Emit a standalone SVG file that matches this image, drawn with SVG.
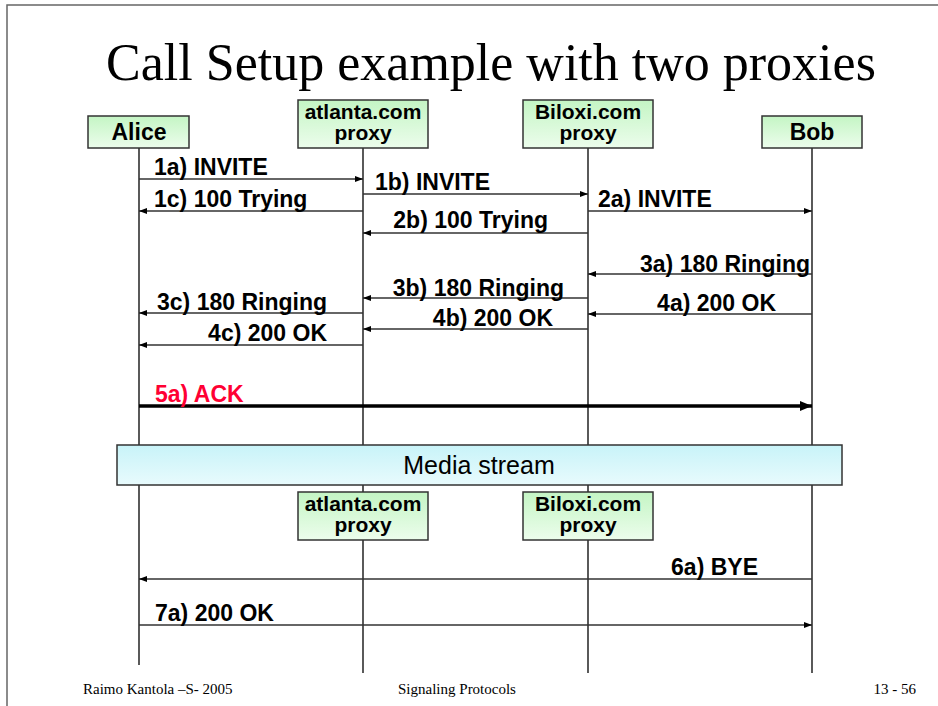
<svg xmlns="http://www.w3.org/2000/svg" width="938" height="706" viewBox="0 0 938 706">
<defs>
<linearGradient id="gBox" x1="0" y1="0" x2="0" y2="1"><stop offset="0" stop-color="#c4f5c4"/><stop offset="1" stop-color="#ecfdec"/></linearGradient>
<linearGradient id="gMedia" x1="0" y1="0" x2="0" y2="1"><stop offset="0" stop-color="#c8f3f8"/><stop offset="1" stop-color="#e8fbfd"/></linearGradient>
<marker id="ah" markerWidth="8" markerHeight="6" refX="8" refY="3" orient="auto" markerUnits="userSpaceOnUse"><path d="M0,0 L8,3 L0,6 z" fill="#000"/></marker>
<marker id="ahBig" markerWidth="12" markerHeight="10" refX="12" refY="5" orient="auto" markerUnits="userSpaceOnUse"><path d="M0,0 L12,5 L0,10 z" fill="#000"/></marker>
</defs>
<style>
.box{fill:url(#gBox);stroke:#333;stroke-width:1.5}
.nl{font-family:"Liberation Sans",Arial,sans-serif;font-weight:bold;font-size:21px;fill:#000;text-anchor:middle}
.life{stroke:#000;stroke-width:1.3}
.msg{stroke:#333;stroke-width:1.5;fill:none;marker-end:url(#ah)}
.lbl{font-family:"Liberation Sans",Arial,sans-serif;font-weight:bold;font-size:23px;fill:#000}
.foot{font-family:"Liberation Serif","Times New Roman",serif;font-size:15px;fill:#000}
</style>
<rect x="0" y="0" width="938" height="706" fill="#fff"/>
<path d="M7,706 L7,5 L938,5" fill="none" stroke="#666" stroke-width="1.5"/>
<text x="491" y="80" font-family="Liberation Serif,'Times New Roman',serif" font-size="52" text-anchor="middle" fill="#000">Call Setup example with two proxies</text>
<g id="lifelines">
<line class="life" x1="139" y1="148" x2="139" y2="665"/>
<line class="life" x1="363" y1="148" x2="363" y2="673"/>
<line class="life" x1="588" y1="148" x2="588" y2="673"/>
<line class="life" x1="812" y1="148" x2="812" y2="673"/>
</g>
<g id="connectors">
<line class="msg" x1="139" y1="179" x2="363" y2="179"/>
<line class="msg" x1="363" y1="194" x2="588" y2="194"/>
<line class="msg" x1="363" y1="211" x2="139" y2="211"/>
<line class="msg" x1="588" y1="211" x2="812" y2="211"/>
<line class="msg" x1="588" y1="233" x2="363" y2="233"/>
<line class="msg" x1="812" y1="274" x2="588" y2="274"/>
<line class="msg" x1="588" y1="298" x2="363" y2="298"/>
<line class="msg" x1="363" y1="313" x2="139" y2="313"/>
<line class="msg" x1="812" y1="314" x2="588" y2="314"/>
<line class="msg" x1="588" y1="329" x2="363" y2="329"/>
<line class="msg" x1="363" y1="345" x2="139" y2="345"/>
<line x1="139" y1="406" x2="812" y2="406" stroke="#000" stroke-width="3.5" marker-end="url(#ahBig)"/>
<line class="msg" x1="812" y1="579" x2="139" y2="579"/>
<line class="msg" x1="139" y1="625" x2="812" y2="625"/>
<text class="lbl" x="154" y="175">1a) INVITE</text>
<text class="lbl" x="375" y="190">1b) INVITE</text>
<text class="lbl" x="154" y="207">1c) 100 Trying</text>
<text class="lbl" x="598" y="207">2a) INVITE</text>
<text class="lbl" x="548" y="228" text-anchor="end">2b) 100 Trying</text>
<text class="lbl" x="810" y="272" text-anchor="end">3a) 180 Ringing</text>
<text class="lbl" x="564" y="296" text-anchor="end">3b) 180 Ringing</text>
<text class="lbl" x="327" y="310" text-anchor="end">3c) 180 Ringing</text>
<text class="lbl" x="776" y="311" text-anchor="end">4a) 200 OK</text>
<text class="lbl" x="553" y="326" text-anchor="end">4b) 200 OK</text>
<text class="lbl" x="327" y="341" text-anchor="end">4c) 200 OK</text>
<text class="lbl" x="155" y="402" style="fill:#ff0033">5a) ACK</text>
<text class="lbl" x="758" y="575" text-anchor="end">6a) BYE</text>
<text class="lbl" x="155" y="621">7a) 200 OK</text>
</g>
<g id="alice"><rect class="box" x="88" y="116" width="101" height="32"/><text class="nl" x="139" y="140" style="font-size:23px">Alice</text></g>
<g id="atlanta"><rect class="box" x="298" y="100" width="130" height="48"/><text class="nl" x="363" y="119">atlanta.com</text><text class="nl" x="363" y="140">proxy</text></g>
<g id="biloxi"><rect class="box" x="523" y="100" width="130" height="48"/><text class="nl" x="588" y="119">Biloxi.com</text><text class="nl" x="588" y="140">proxy</text></g>
<g id="bob"><rect class="box" x="762" y="116" width="100" height="32"/><text class="nl" x="812" y="140" style="font-size:23px">Bob</text></g>
<g id="media"><rect x="117" y="445" width="725" height="40" fill="url(#gMedia)" stroke="#333" stroke-width="1.5"/><text x="479" y="474" font-family="Liberation Sans,Arial,sans-serif" font-size="25" text-anchor="middle" fill="#000">Media stream</text></g>
<g id="atlanta2"><rect class="box" x="298" y="492" width="130" height="48"/><text class="nl" x="363" y="511">atlanta.com</text><text class="nl" x="363" y="532">proxy</text></g>
<g id="biloxi2"><rect class="box" x="523" y="492" width="130" height="48"/><text class="nl" x="588" y="511">Biloxi.com</text><text class="nl" x="588" y="532">proxy</text></g>
<g id="footer">
<text class="foot" x="83" y="694">Raimo Kantola –S- 2005</text>
<text class="foot" x="457" y="694" text-anchor="middle">Signaling Protocols</text>
<text class="foot" x="916" y="694" text-anchor="end">13 - 56</text>
</g>
</svg>
